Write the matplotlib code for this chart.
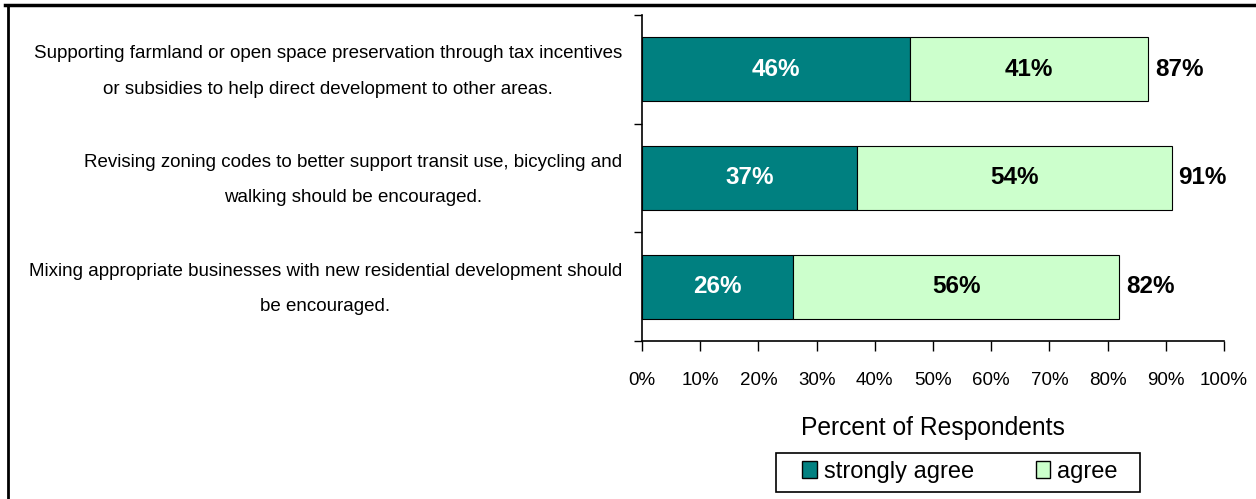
import matplotlib.pyplot as plt
from matplotlib.lines import Line2D
from matplotlib.patches import Rectangle

plt.rcParams['font.family'] = ['Liberation Sans', 'DejaVu Sans']

statements = [
    "Supporting farmland or open space preservation through tax incentives\nor subsidies to help direct development to other areas.",
    "Revising zoning codes to better support transit use, bicycling and\nwalking should be encouraged.",
    "Mixing appropriate businesses with new residential development should\nbe encouraged.",
]
strongly_agree = [46, 37, 26]
agree = [41, 54, 56]
x_ticks = [0, 10, 20, 30, 40, 50, 60, 70, 80, 90, 100]

teal = '#008080'
light = '#CCFFCC'

W, H = 1256, 499
fig = plt.figure(figsize=(W / 100, H / 100), dpi=100)
ax = fig.add_axes([642 / W, 1 - 341 / H, (1224 - 642) / W, 326 / H])

ypos = list(range(len(statements)))
ax.barh(ypos, strongly_agree, height=0.59, color=teal, edgecolor='black', linewidth=0.8,
        label='strongly agree')
ax.barh(ypos, agree, left=strongly_agree, height=0.59, color=light, edgecolor='black',
        linewidth=0.8, label='agree')

for y, s, a in zip(ypos, strongly_agree, agree):
    ax.text(s / 2, y, f"{s}%", ha='center', va='center', color='white',
            fontsize=17.5, fontweight='bold')
    ax.text(s + a / 2, y, f"{a}%", ha='center', va='center', color='black',
            fontsize=17.5, fontweight='bold')
    ax.text(s + a + 1.2, y, f"{s + a}%", ha='left', va='center', color='black',
            fontsize=17.5, fontweight='bold')

ax.set_xlim(0, 100)
ax.set_ylim(2.5, -0.5)
ax.set_xticks(x_ticks)
ax.set_xticklabels([f"{t}%" for t in x_ticks], fontsize=13.5)
ax.tick_params(axis='x', direction='out', length=7, width=1, pad=15)
ax.set_yticks([-0.5, 0.5, 1.5, 2.5])
ax.set_yticklabels([])
ax.tick_params(axis='y', direction='out', length=6, width=1)
for side in ['top', 'right']:
    ax.spines[side].set_visible(False)
ax.spines['left'].set_linewidth(1.2)
ax.spines['bottom'].set_linewidth(1.2)

for y, txt in zip(ypos, statements):
    ax.annotate(txt, xy=(0, y), xycoords='data', xytext=(-14.5, -1.5), textcoords='offset points',
                ha='right', va='center', multialignment='center', fontsize=13.5,
                linespacing=2.42)

ax.set_xlabel('Percent of Respondents', fontsize=17.7, labelpad=20)

leg = ax.legend(loc='center', bbox_to_anchor=((960 - 642) / 582, -(472 - 341) / 326), ncol=2,
                frameon=False, fontsize=17, handlelength=0.62, handleheight=0.72,
                handletextpad=0.3, columnspacing=2.6, borderpad=0, borderaxespad=0)
for h in leg.legend_handles:
    h.set_linewidth(1.0)

# legend box drawn separately, it is wider than the entries
fig.add_artist(Rectangle((776 / W, 1 - 492 / H), (1140 - 776) / W, 39 / H, fill=False,
                         edgecolor='black', lw=1.2, transform=fig.transFigure))

# border of the surrounding figure frame
fig.add_artist(Line2D([5 / W, 1], [1 - 5 / H, 1 - 5 / H], color='black', lw=2.5,
                      transform=fig.transFigure))
fig.add_artist(Line2D([8 / W, 8 / W], [0, 1 - 5 / H], color='black', lw=2,
                      transform=fig.transFigure))

fig.savefig('out.png', dpi=100)
